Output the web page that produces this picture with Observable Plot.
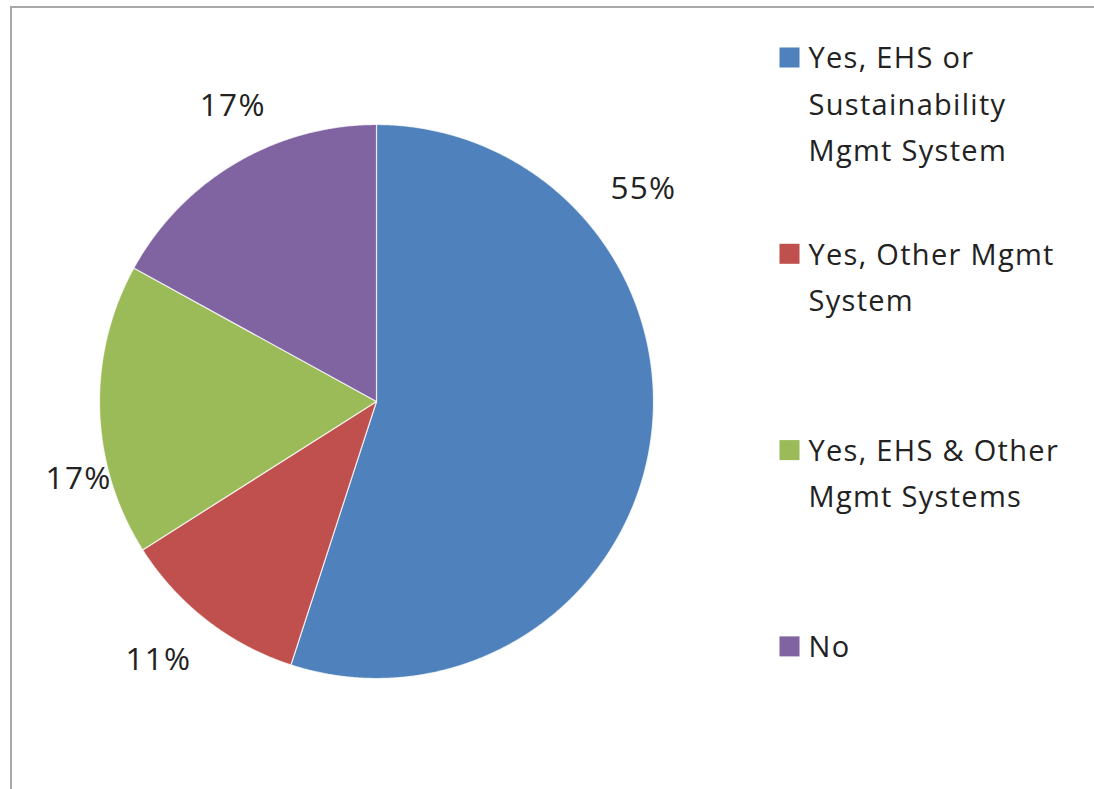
<!DOCTYPE html>
<html>
<head>
<meta charset="utf-8">
<script src="https://cdn.jsdelivr.net/npm/d3@7"></script>
<script src="https://cdn.jsdelivr.net/npm/@observablehq/plot@0.6"></script>
<style>
  html, body { margin: 0; padding: 0; background: #fff; overflow: hidden; }
  #wrap { position: relative; width: 1094px; height: 789px; }
  #frame { position: absolute; left: 10px; top: 6px; width: 2000px; height: 2000px;
           border-left: 2px solid #a8a8a8; border-top: 2px solid #a8a8a8; pointer-events: none; }
  svg { letter-spacing: 1.3px; }
</style>
</head>
<body>
<div id="wrap"><div id="frame"></div></div>
<script>
// ---- data ----
const categories = [
  "Yes, EHS or Sustainability Mgmt System",
  "Yes, Other Mgmt System",
  "Yes, EHS & Other Mgmt Systems",
  "No"
];
const legendText = [
  "Yes, EHS or\nSustainability\nMgmt System",
  "Yes, Other Mgmt\nSystem",
  "Yes, EHS & Other\nMgmt Systems",
  "No"
];
const shares = [55, 11, 17, 17];
const shareLabels = ["55%", "11%", "17%", "17%"];
const sliceColors = ["#4F81BD", "#C0504D", "#9BBB59", "#8064A2"];

// ---- layout (pixels) ----
const W = 1094, H = 789;
const CX = 376, CY = 401, R = 277;            // pie centre and radius
// label placement (angle in degrees clockwise from 12 o'clock, radius in pie radii)
const labelPlacement = [[51.4, 1.233], [220.2, 1.22], [255.5, 1.111], [334.1, 1.188]];
const legendX = 789, legendTextX = 808, legendY0 = 57, legendStep = 196.3, textLift = 22;

const ux = px => (px - CX) / R;
const uy = py => (CY - py) / R;

// ---- build slices from data ----
const total = d3.sum(shares);
const slicePts = [];
let acc = 0;
shares.forEach((v, i) => {
  const a0 = acc / total * 2 * Math.PI;
  acc += v;
  const a1 = acc / total * 2 * Math.PI;
  const n = Math.max(2, Math.ceil((a1 - a0) / (Math.PI / 720)));
  slicePts.push({cat: categories[i], x: 0, y: 0});
  for (let k = 0; k <= n; k++) {
    const a = a0 + (a1 - a0) * k / n;
    slicePts.push({cat: categories[i], x: Math.sin(a), y: Math.cos(a)});
  }
  slicePts.push({cat: categories[i], x: 0, y: 0});
});

const labelData = shareLabels.map((t, i) => {
  const [deg, r] = labelPlacement[i];
  const a = deg * Math.PI / 180;
  return {text: t, x: r * Math.sin(a), y: r * Math.cos(a)};
});

const legendData = categories.map((c, i) => ({
  cat: c,
  text: legendText[i],
  x: ux(legendX),
  tx: ux(legendTextX),
  y: uy(legendY0 + i * legendStep),
  ty: uy(legendY0 + i * legendStep - textLift)
}));

const chart = Plot.plot({
  width: W,
  height: H,
  margin: 0,
  x: {domain: [ux(0), ux(W)], axis: null},
  y: {domain: [uy(H), uy(0)], axis: null},
  color: {domain: categories, range: sliceColors},
  style: {fontFamily: "'Open Sans', sans-serif", background: "transparent", color: "#222"},
  marks: [
    Plot.line(slicePts, {x: "x", y: "y", z: "cat", fill: "cat",
      stroke: "#ffffff", strokeWidth: 1.2, strokeOpacity: 0.75}),
    Plot.text(labelData, {x: "x", y: "y", text: "text", fontSize: 31.5, fill: "#222"}),
    Plot.dot(legendData, {x: "x", y: "y", fill: "cat", symbol: "square", r: 11.3}),
    Plot.text(legendData, {x: "tx", y: "ty", text: "text", textAnchor: "start",
      lineAnchor: "top", fontSize: 29, lineHeight: 1.6, fill: "#222"})
  ]
});
document.getElementById("wrap").prepend(chart);
</script>
</body>
</html>
